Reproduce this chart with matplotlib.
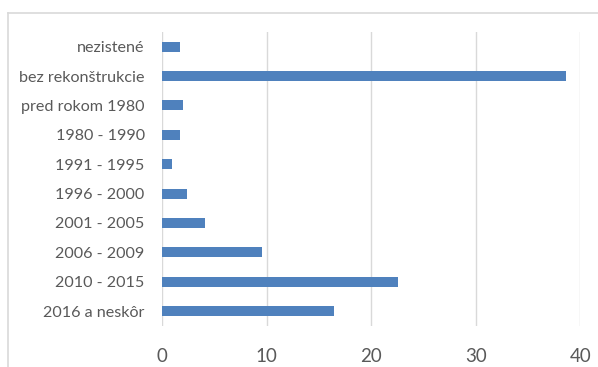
import matplotlib
matplotlib.use("Agg")
import matplotlib.pyplot as plt
from matplotlib.lines import Line2D

categories = ["nezistené", "bez rekonštrukcie", "pred rokom 1980", "1980 - 1990",
              "1991 - 1995", "1996 - 2000", "2001 - 2005", "2006 - 2009",
              "2010 - 2015", "2016 a neskôr"]
values = [1.7, 38.6, 2.0, 1.7, 1.0, 2.4, 4.1, 9.6, 22.6, 16.4]
xticks = [0, 10, 20, 30, 40]

plt.rcParams['font.family'] = ['Lato', 'DejaVu Sans']
W, H = 598, 367
fig = plt.figure(figsize=(W/100, H/100), dpi=100)
ax = fig.add_axes([162/W, 1-325.7/H, (580.3-162)/W, (325.7-32)/H])

pos = list(range(len(categories)))
ax.barh(pos, values, height=0.34, color="#4f81bd", zorder=3)
ax.set_ylim(len(categories)-0.5, -0.5)
ax.set_xlim(0, 40)
ax.set_xticks(xticks)
ax.set_xticklabels([str(t) for t in xticks], fontsize=13.5, color="#595959")
ax.set_yticks(pos)
ax.set_yticklabels(categories, fontsize=11.6, color="#595959")
ax.tick_params(axis='both', length=0)
ax.tick_params(axis='x', pad=16)
ax.tick_params(axis='y', pad=12.5)
ax.grid(axis='x', color="#d9d9d9", linewidth=1, zorder=0)
for s in ax.spines.values():
    s.set_visible(False)

# chart border (light gray)
fig.add_artist(Line2D([8/W, 1], [1-13/H, 1-13/H], color="#d9d9d9", linewidth=1.2, transform=fig.transFigure))
fig.add_artist(Line2D([8/W, 8/W], [0, 1-13/H], color="#d9d9d9", linewidth=1.2, transform=fig.transFigure))

fig.savefig("out.png", dpi=100)
